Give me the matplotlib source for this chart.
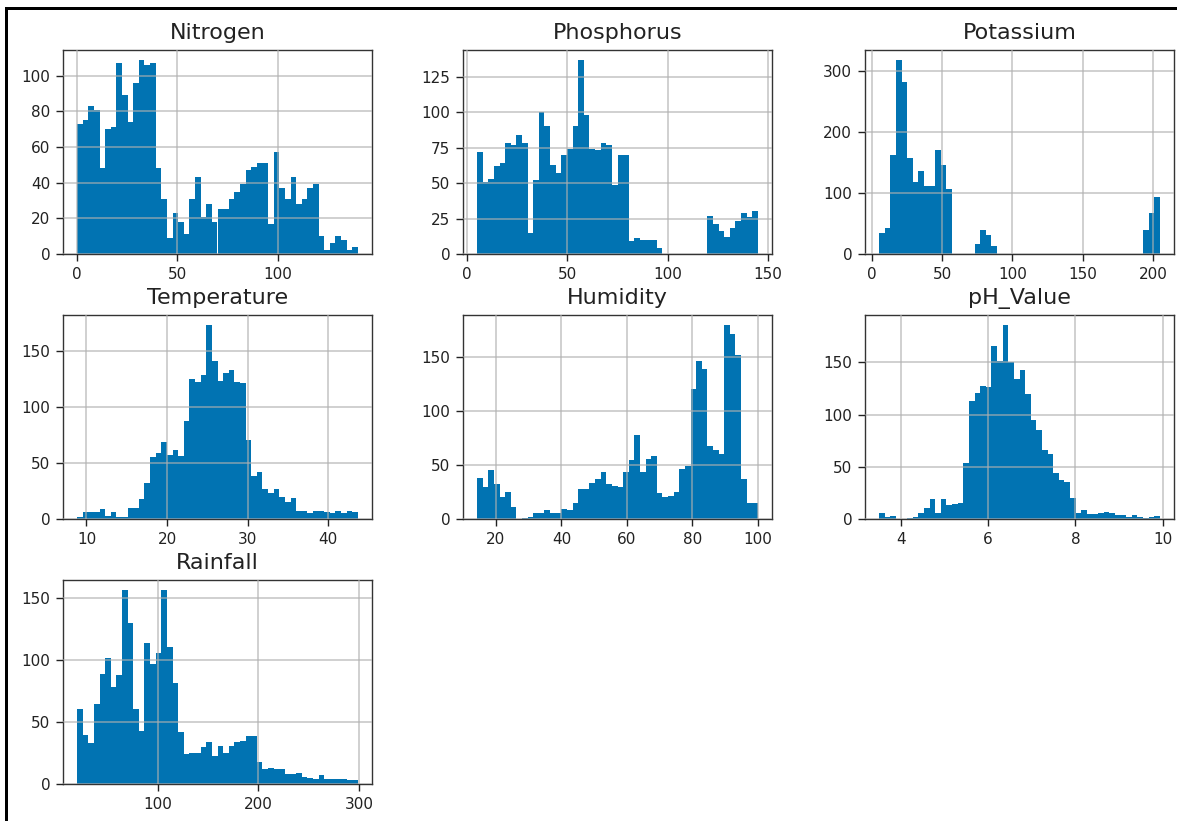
import matplotlib
matplotlib.use("Agg")
import matplotlib.pyplot as plt
import numpy as np
from matplotlib.patches import Rectangle

# counts per bin (50 bins each)
nitrogen = [73, 75, 83, 81, 48, 70, 71, 107, 89, 74,
            96, 109, 106, 107, 48, 31, 9, 23, 18, 11,
            31, 43, 21, 28, 18, 25, 25, 31, 35, 39,
            47, 49, 51, 51, 17, 57, 37, 31, 43, 28,
            31, 37, 39, 10, 2, 6, 10, 8, 2, 4]
phosphorus = [72, 51, 53, 62, 64, 78, 77, 84, 78, 15,
              52, 100, 90, 63, 57, 70, 74, 90, 137, 98,
              74, 73, 78, 77, 49, 70, 70, 9, 11, 10,
              10, 10, 4, 0, 0, 0, 0, 0, 0, 0,
              0, 27, 21, 16, 12, 18, 23, 29, 26, 30]
potassium = [34, 42, 163, 319, 282, 157, 118, 136, 111, 112,
             171, 146, 106, 0, 0, 0, 0, 16, 39, 32,
             13, 0, 0, 0, 0, 0, 0, 0, 0, 0,
             0, 0, 0, 0, 0, 0, 0, 0, 0, 0,
             0, 0, 0, 0, 0, 0, 0, 39, 67, 94]
temperature = [2, 6, 6, 6, 9, 3, 6, 2, 2, 10,
               10, 18, 32, 55, 59, 69, 57, 61, 56, 87,
               125, 122, 128, 173, 141, 123, 130, 133, 122, 121,
               70, 38, 42, 27, 23, 27, 20, 15, 19, 7,
               7, 5, 7, 7, 6, 5, 7, 5, 7, 6]
humidity = [38, 30, 45, 32, 20, 25, 11, 0, 1, 2,
            6, 6, 8, 6, 6, 9, 8, 15, 28, 28,
            33, 37, 44, 32, 31, 30, 44, 55, 78, 44,
            56, 58, 24, 20, 21, 25, 46, 49, 120, 146,
            139, 68, 64, 60, 180, 171, 152, 37, 15, 15]
ph_value = [6, 2, 3, 0, 0, 1, 2, 6, 11, 19,
            6, 19, 13, 14, 15, 54, 113, 121, 127, 126,
            166, 151, 186, 150, 134, 143, 120, 95, 85, 66,
            62, 44, 37, 35, 20, 6, 9, 5, 5, 6,
            7, 6, 4, 4, 2, 4, 2, 1, 2, 3]
rainfall = [61, 40, 33, 65, 89, 102, 78, 88, 157, 130,
            61, 43, 114, 97, 106, 157, 111, 82, 42, 24,
            25, 25, 30, 34, 23, 31, 25, 31, 34, 35,
            39, 39, 18, 12, 13, 12, 12, 8, 8, 9,
            6, 5, 4, 7, 4, 4, 4, 4, 3, 3]

titles = ["Nitrogen", "Phosphorus", "Potassium", "Temperature",
          "Humidity", "pH_Value", "Rainfall"]
counts = [nitrogen, phosphorus, potassium, temperature,
          humidity, ph_value, rainfall]
# data min / max of each column
ranges = [(0, 140), (5, 145), (5, 205), (8.83, 43.68),
          (14.26, 99.98), (3.50, 9.94), (20.21, 298.56)]

W, H = 1177, 821
fig = plt.figure(figsize=(W / 100, H / 100), dpi=100)

col_left = [63, 463, 865]
row_top = [50, 315, 580]
ax_w, ax_h = 309, 204

for i, (title, c, (lo, hi)) in enumerate(zip(titles, counts, ranges)):
    r, k = divmod(i, 3)
    x0 = col_left[k] / W
    y0 = 1 - (row_top[r] + ax_h) / H
    ax = fig.add_axes([x0, y0, ax_w / W, ax_h / H])
    edges = np.linspace(lo, hi, len(c) + 1)
    ax.hist(edges[:-1], bins=edges, weights=c, color="#0173B2")
    ax.grid(True, color="#b0b0b0", linewidth=1.1, alpha=0.75)
    ax.set_axisbelow(False)
    ax.set_title(title, fontsize=16, pad=8, color="#222222")
    ax.tick_params(labelsize=11, length=4.7, width=1.0, pad=4.5, colors="#222222")
    for s in ax.spines.values():
        s.set_linewidth(1.0)
        s.set_color("#333333")

# screenshot frame lines (top and left)
fig.add_artist(Rectangle((5 / W, 1 - 10.5 / H), 1, 3 / H,
                         transform=fig.transFigure, color="black", lw=0))
fig.add_artist(Rectangle((5 / W, 0), 2.5 / W, 1 - 8 / H,
                         transform=fig.transFigure, color="black", lw=0))

fig.savefig("out.png", dpi=100)
